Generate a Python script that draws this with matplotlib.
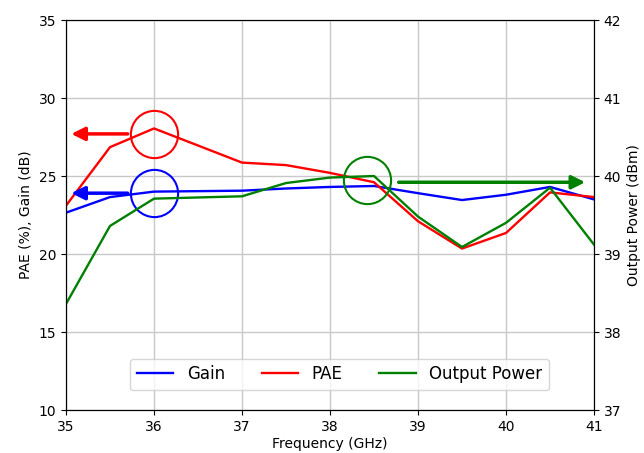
import matplotlib
matplotlib.use("Agg")
import matplotlib.pyplot as plt

freq = [35, 35.5, 36, 37, 37.5, 38, 38.5, 39, 39.5, 40, 40.5, 41]
gain = [22.65, 23.65, 24.0, 24.06, 24.2, 24.3, 24.36, 23.9, 23.46, 23.8, 24.3, 23.5]
pae = [23.1, 26.85, 28.05, 25.86, 25.7, 25.2, 24.6, 22.1, 20.35, 21.35, 23.95, 23.65]
pout = [38.36, 39.36, 39.71, 39.74, 39.91, 39.98, 40.0, 39.48, 39.09, 39.40, 39.85, 39.12]

fig = plt.figure(figsize=(6.44, 4.53), dpi=100)
ax = fig.add_axes([0.1025, 0.0949, 0.8199, 0.8609])
ax2 = ax.twinx()

lg, = ax.plot(freq, gain, color='blue', lw=1.7, label='Gain')
lp, = ax.plot(freq, pae, color='red', lw=1.7, label='PAE')
lo, = ax2.plot(freq, pout, color='green', lw=1.7, label='Output Power')

ax.set_xlim(35, 41)
ax.set_ylim(10, 35)
ax2.set_ylim(37, 42)
ax.set_xticks([35, 36, 37, 38, 39, 40, 41])
ax.set_yticks([10, 15, 20, 25, 30, 35])
ax2.set_yticks([37, 38, 39, 40, 41, 42])
ax.grid(True, color='#c8c8c8', lw=1)
ax.set_axisbelow(True)
ax.set_xlabel('Frequency (GHz)', labelpad=2)
ax.set_ylabel('PAE (%), Gain (dB)')
ax2.set_ylabel('Output Power (dBm)')

# annotation circles and arrows
ax.plot([36], [27.7], marker='o', ms=34, mfc='none', mec='red', mew=1.5)
ax.plot([36], [23.9], marker='o', ms=34, mfc='none', mec='blue', mew=1.5)
ax2.plot([38.42], [39.95], marker='o', ms=34, mfc='none', mec='green', mew=1.5)
akw = dict(arrowstyle='-|>', lw=2.5, mutation_scale=20, shrinkA=0, shrinkB=0)
ax.annotate('', xy=(35.06, 27.7), xytext=(35.7, 27.7),
            arrowprops=dict(color='red', **akw))
ax.annotate('', xy=(35.06, 23.9), xytext=(35.7, 23.9),
            arrowprops=dict(color='blue', **akw))
ax2.annotate('', xy=(40.9, 39.92), xytext=(38.78, 39.92),
             arrowprops=dict(color='green', **akw))

ax.legend(handles=[lg, lp, lo], loc='lower center', bbox_to_anchor=(0.518, 0.03),
          ncol=3, fontsize=12, framealpha=0.8, handlelength=2.2, columnspacing=2.2)

fig.savefig('out.png', dpi=100)
